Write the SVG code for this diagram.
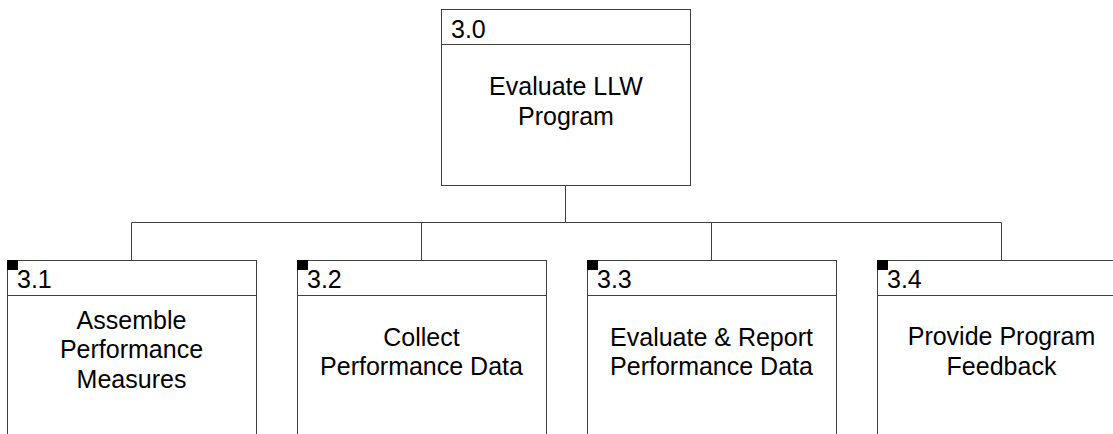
<svg xmlns="http://www.w3.org/2000/svg" width="1113" height="434" viewBox="0 0 1113 434">
<style>
.box{fill:#fff;stroke:#404040;stroke-width:1}
.ln{fill:none;stroke:#404040;stroke-width:1}
.mk{fill:#000}
text{font-family:"Liberation Sans",Arial,sans-serif;font-size:25px;fill:#000}
.c{text-anchor:middle}
</style>
<rect width="1113" height="434" fill="#fff"/>
<g id="connectors">
<path class="ln" d="M565.5 185.5V222.5M131.5 222.5H1001.5M131.5 222.5V260.5M421.5 222.5V260.5M711.5 222.5V260.5M1001.5 222.5V260.5"/>
</g>
<g id="node-3-0">
<rect class="box" x="441.5" y="9.5" width="249" height="176"/>
<line class="ln" x1="441.5" y1="44.5" x2="690.5" y2="44.5"/>
<text x="451" y="37.5">3.0</text>
<text class="c" x="566" y="95">Evaluate LLW</text>
<text class="c" x="566" y="124.5">Program</text>
</g>
<g id="node-3-1">
<rect class="box" x="7.5" y="260.5" width="249" height="190"/>
<line class="ln" x1="7.5" y1="295.5" x2="256.5" y2="295.5"/>
<rect class="mk" x="7" y="260" width="11" height="10"/>
<text x="17" y="288">3.1</text>
<text class="c" x="131.5" y="328.5">Assemble</text>
<text class="c" x="131.5" y="358">Performance</text>
<text class="c" x="131.5" y="387.5">Measures</text>
</g>
<g id="node-3-2">
<rect class="box" x="297.5" y="260.5" width="249" height="190"/>
<line class="ln" x1="297.5" y1="295.5" x2="546.5" y2="295.5"/>
<rect class="mk" x="297" y="260" width="11" height="10"/>
<text x="307" y="288">3.2</text>
<text class="c" x="421.5" y="345.5">Collect</text>
<text class="c" x="421.5" y="375">Performance Data</text>
</g>
<g id="node-3-3">
<rect class="box" x="587.5" y="260.5" width="249" height="190"/>
<line class="ln" x1="587.5" y1="295.5" x2="836.5" y2="295.5"/>
<rect class="mk" x="587" y="260" width="11" height="10"/>
<text x="597" y="288">3.3</text>
<text class="c" x="711.5" y="345.5">Evaluate &amp; Report</text>
<text class="c" x="711.5" y="375">Performance Data</text>
</g>
<g id="node-3-4">
<rect class="box" x="877.5" y="260.5" width="249" height="190"/>
<line class="ln" x1="877.5" y1="295.5" x2="1126.5" y2="295.5"/>
<rect class="mk" x="877" y="260" width="11" height="10"/>
<text x="887" y="288">3.4</text>
<text class="c" x="1001.5" y="345">Provide Program</text>
<text class="c" x="1001.5" y="374.5">Feedback</text>
</g>
</svg>
